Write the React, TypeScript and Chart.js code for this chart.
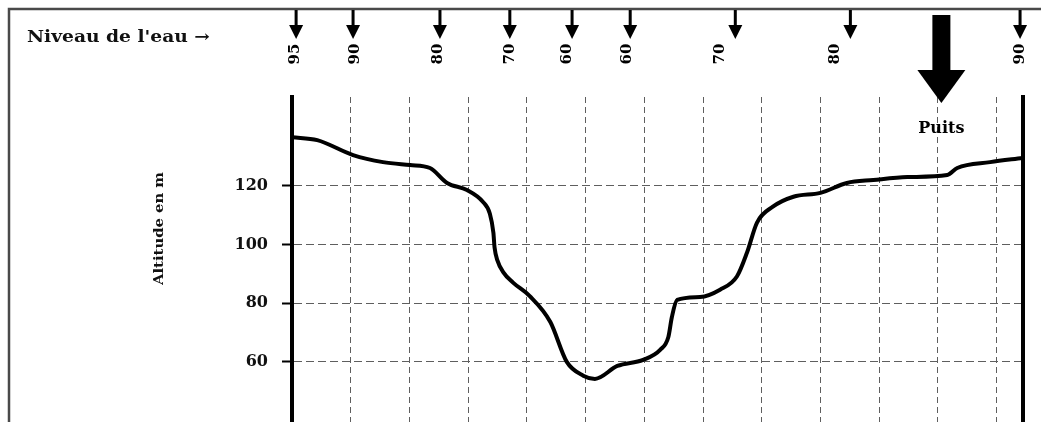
import React, { useEffect, useRef } from "react";
import { Chart, registerables } from "chart.js";

Chart.register(...registerables);

// Profile: horizontal distance (one grid square = 100) and altitude (m)
const distance = [0, 43, 104, 155, 201, 235, 264, 298, 325, 337, 343, 345, 350, 360, 376, 405, 440, 468, 496, 516, 554, 598, 627, 641, 647, 656, 695, 729, 758, 775, 792, 819, 854, 900, 945, 990, 1048, 1116, 1133, 1189, 1244];
const altitude = [136.6, 135.6, 130.5, 128.1, 127.1, 126.1, 121, 118.6, 114.6, 110.5, 104, 99, 94.5, 90.5, 87.1, 82.4, 73.6, 60, 55.3, 54.2, 58.6, 60.7, 64.1, 68.5, 75.3, 81.1, 82.1, 84.6, 89.2, 97.3, 107.5, 112.9, 116.3, 117.6, 121, 122, 123, 123.7, 126.1, 128.1, 129.5];

const yTicks = [60, 80, 100, 120];
const gridDistances = [100, 200, 300, 400, 500, 600, 700, 800, 900, 1000, 1100, 1200];

// Water level readings along the top
const levelLabels = ["95", "90", "80", "70", "60", "60", "70", "80", "90"];
const levelLabelX = [5, 107, 249, 371, 468, 571, 729, 925, 1240];
const levelArrowX = [7, 104, 252, 371, 477, 576, 755, 951, 1240];
const wellX = 1106;
const wellLabel = "Puits";
const headerText = "Niveau de l'eau →";
const yTitle = "Altitude en m";

const SERIF = "'DejaVu Serif', serif";

function drawArrow(ctx: CanvasRenderingContext2D, cx: number, y0: number, y1: number, shaftW: number, headW: number, headL: number) {
  ctx.fillRect(cx - shaftW / 2, y0, shaftW, y1 - headL - y0 + 1);
  ctx.beginPath();
  ctx.moveTo(cx - headW / 2, y1 - headL);
  ctx.lineTo(cx + headW / 2, y1 - headL);
  ctx.lineTo(cx, y1);
  ctx.closePath();
  ctx.fill();
}

function fitText(ctx: CanvasRenderingContext2D, text: string, x: number, y: number, width: number) {
  const w = ctx.measureText(text).width;
  ctx.save();
  ctx.translate(x, y);
  ctx.scale(width / w, 1);
  ctx.fillText(text, 0, 0);
  ctx.restore();
}

const annotate = {
  id: "annotate",
  afterDraw(chart: any) {
    const { ctx } = chart;
    const x = chart.scales.x;
    ctx.save();
    // frame
    ctx.strokeStyle = "#4a4a4a";
    ctx.lineWidth = 2.5;
    ctx.beginPath();
    ctx.moveTo(9, 422);
    ctx.lineTo(9, 9);
    ctx.lineTo(1041, 9);
    ctx.stroke();

    ctx.fillStyle = "#111";
    // header
    ctx.font = `bold 16px ${SERIF}`;
    ctx.textAlign = "left";
    ctx.textBaseline = "middle";
    fitText(ctx, headerText, 27, 38, 183);

    // y title
    ctx.save();
    ctx.translate(160, 228);
    ctx.rotate(-Math.PI / 2);
    ctx.font = `bold 13px ${SERIF}`;
    ctx.textAlign = "left";
    ctx.textBaseline = "middle";
    fitText(ctx, yTitle, -57, 0, 113);
    ctx.restore();

    // small arrows
    ctx.fillStyle = "#000";
    levelArrowX.forEach((v) => {
      drawArrow(ctx, x.getPixelForValue(v), 10, 39, 3, 14, 14);
    });
    // level labels, rotated
    ctx.font = `bold 15px ${SERIF}`;
    ctx.textAlign = "center";
    ctx.textBaseline = "middle";
    levelLabels.forEach((t, i) => {
      ctx.save();
      ctx.translate(x.getPixelForValue(levelLabelX[i]), 54);
      ctx.rotate(-Math.PI / 2);
      ctx.fillText(t, 0, 0);
      ctx.restore();
    });

    // well arrow
    const wx = x.getPixelForValue(wellX);
    drawArrow(ctx, wx, 15, 103, 18, 48, 33);
    ctx.font = `bold 16px ${SERIF}`;
    ctx.textAlign = "center";
    ctx.textBaseline = "middle";
    ctx.fillText(wellLabel, wx, 129);
    ctx.restore();
  },
};

export default function App() {
  const ref = useRef<HTMLCanvasElement>(null);
  useEffect(() => {
    document.body.style.margin = "0";
    document.body.style.overflow = "hidden";
    const chart = new Chart(ref.current!, {
      type: "line",
      data: {
        datasets: [
          {
            data: distance.map((d, i) => ({ x: d, y: altitude[i] })),
            borderColor: "#000",
            borderWidth: 4,
            pointRadius: 0,
            cubicInterpolationMode: "monotone",
            fill: false,
          },
        ],
      },
      options: {
        responsive: false,
        animation: false,
        layout: { padding: { top: 97, left: 0, right: 0, bottom: 0 } },
        plugins: { legend: { display: false }, tooltip: { enabled: false } },
        scales: {
          x: {
            type: "linear",
            min: 0,
            max: 1245,
            afterBuildTicks: (s: any) => {
              s.ticks = gridDistances.map((v) => ({ value: v }));
            },
            afterFit: (s: any) => {
              s.height = 0;
              s.paddingLeft = 0;
              s.paddingRight = 0;
            },
            ticks: { display: false },
            grid: { color: "#5e5e5e", lineWidth: 1, drawTicks: false },
            border: { display: false, dash: [6, 4] },
          },
          y: {
            min: 39.5,
            max: 150.3,
            afterBuildTicks: (s: any) => {
              s.ticks = yTicks.map((v) => ({ value: v }));
            },
            afterFit: (s: any) => {
              s.width = 292;
              s.paddingTop = 0;
              s.paddingBottom = 0;
            },
            ticks: {
              color: "#111",
              padding: 14,
              font: { family: SERIF, weight: "bold", size: 16 },
            },
            grid: {
              color: "#5e5e5e",
              lineWidth: 1,
              tickLength: 10,
              tickColor: "#000",
              tickWidth: 2,
              tickBorderDash: [],
            },
            border: { color: "#000", width: 4, dash: [8, 4] },
          },
          y2: {
            position: "right",
            min: 39.5,
            max: 150.3,
            ticks: { display: false },
            grid: { drawOnChartArea: false, drawTicks: false },
            border: { color: "#000", width: 4 },
            afterFit: (s: any) => {
              s.width = 18;
              s.paddingTop = 0;
              s.paddingBottom = 0;
            },
          },
        },
      } as any,
      plugins: [annotate],
    });
    return () => chart.destroy();
  }, []);
  return (
    <div style={{ width: 1041, height: 422, background: "#fff" }}>
      <canvas ref={ref} width={1041} height={422} style={{ display: "block" }} />
    </div>
  );
}
